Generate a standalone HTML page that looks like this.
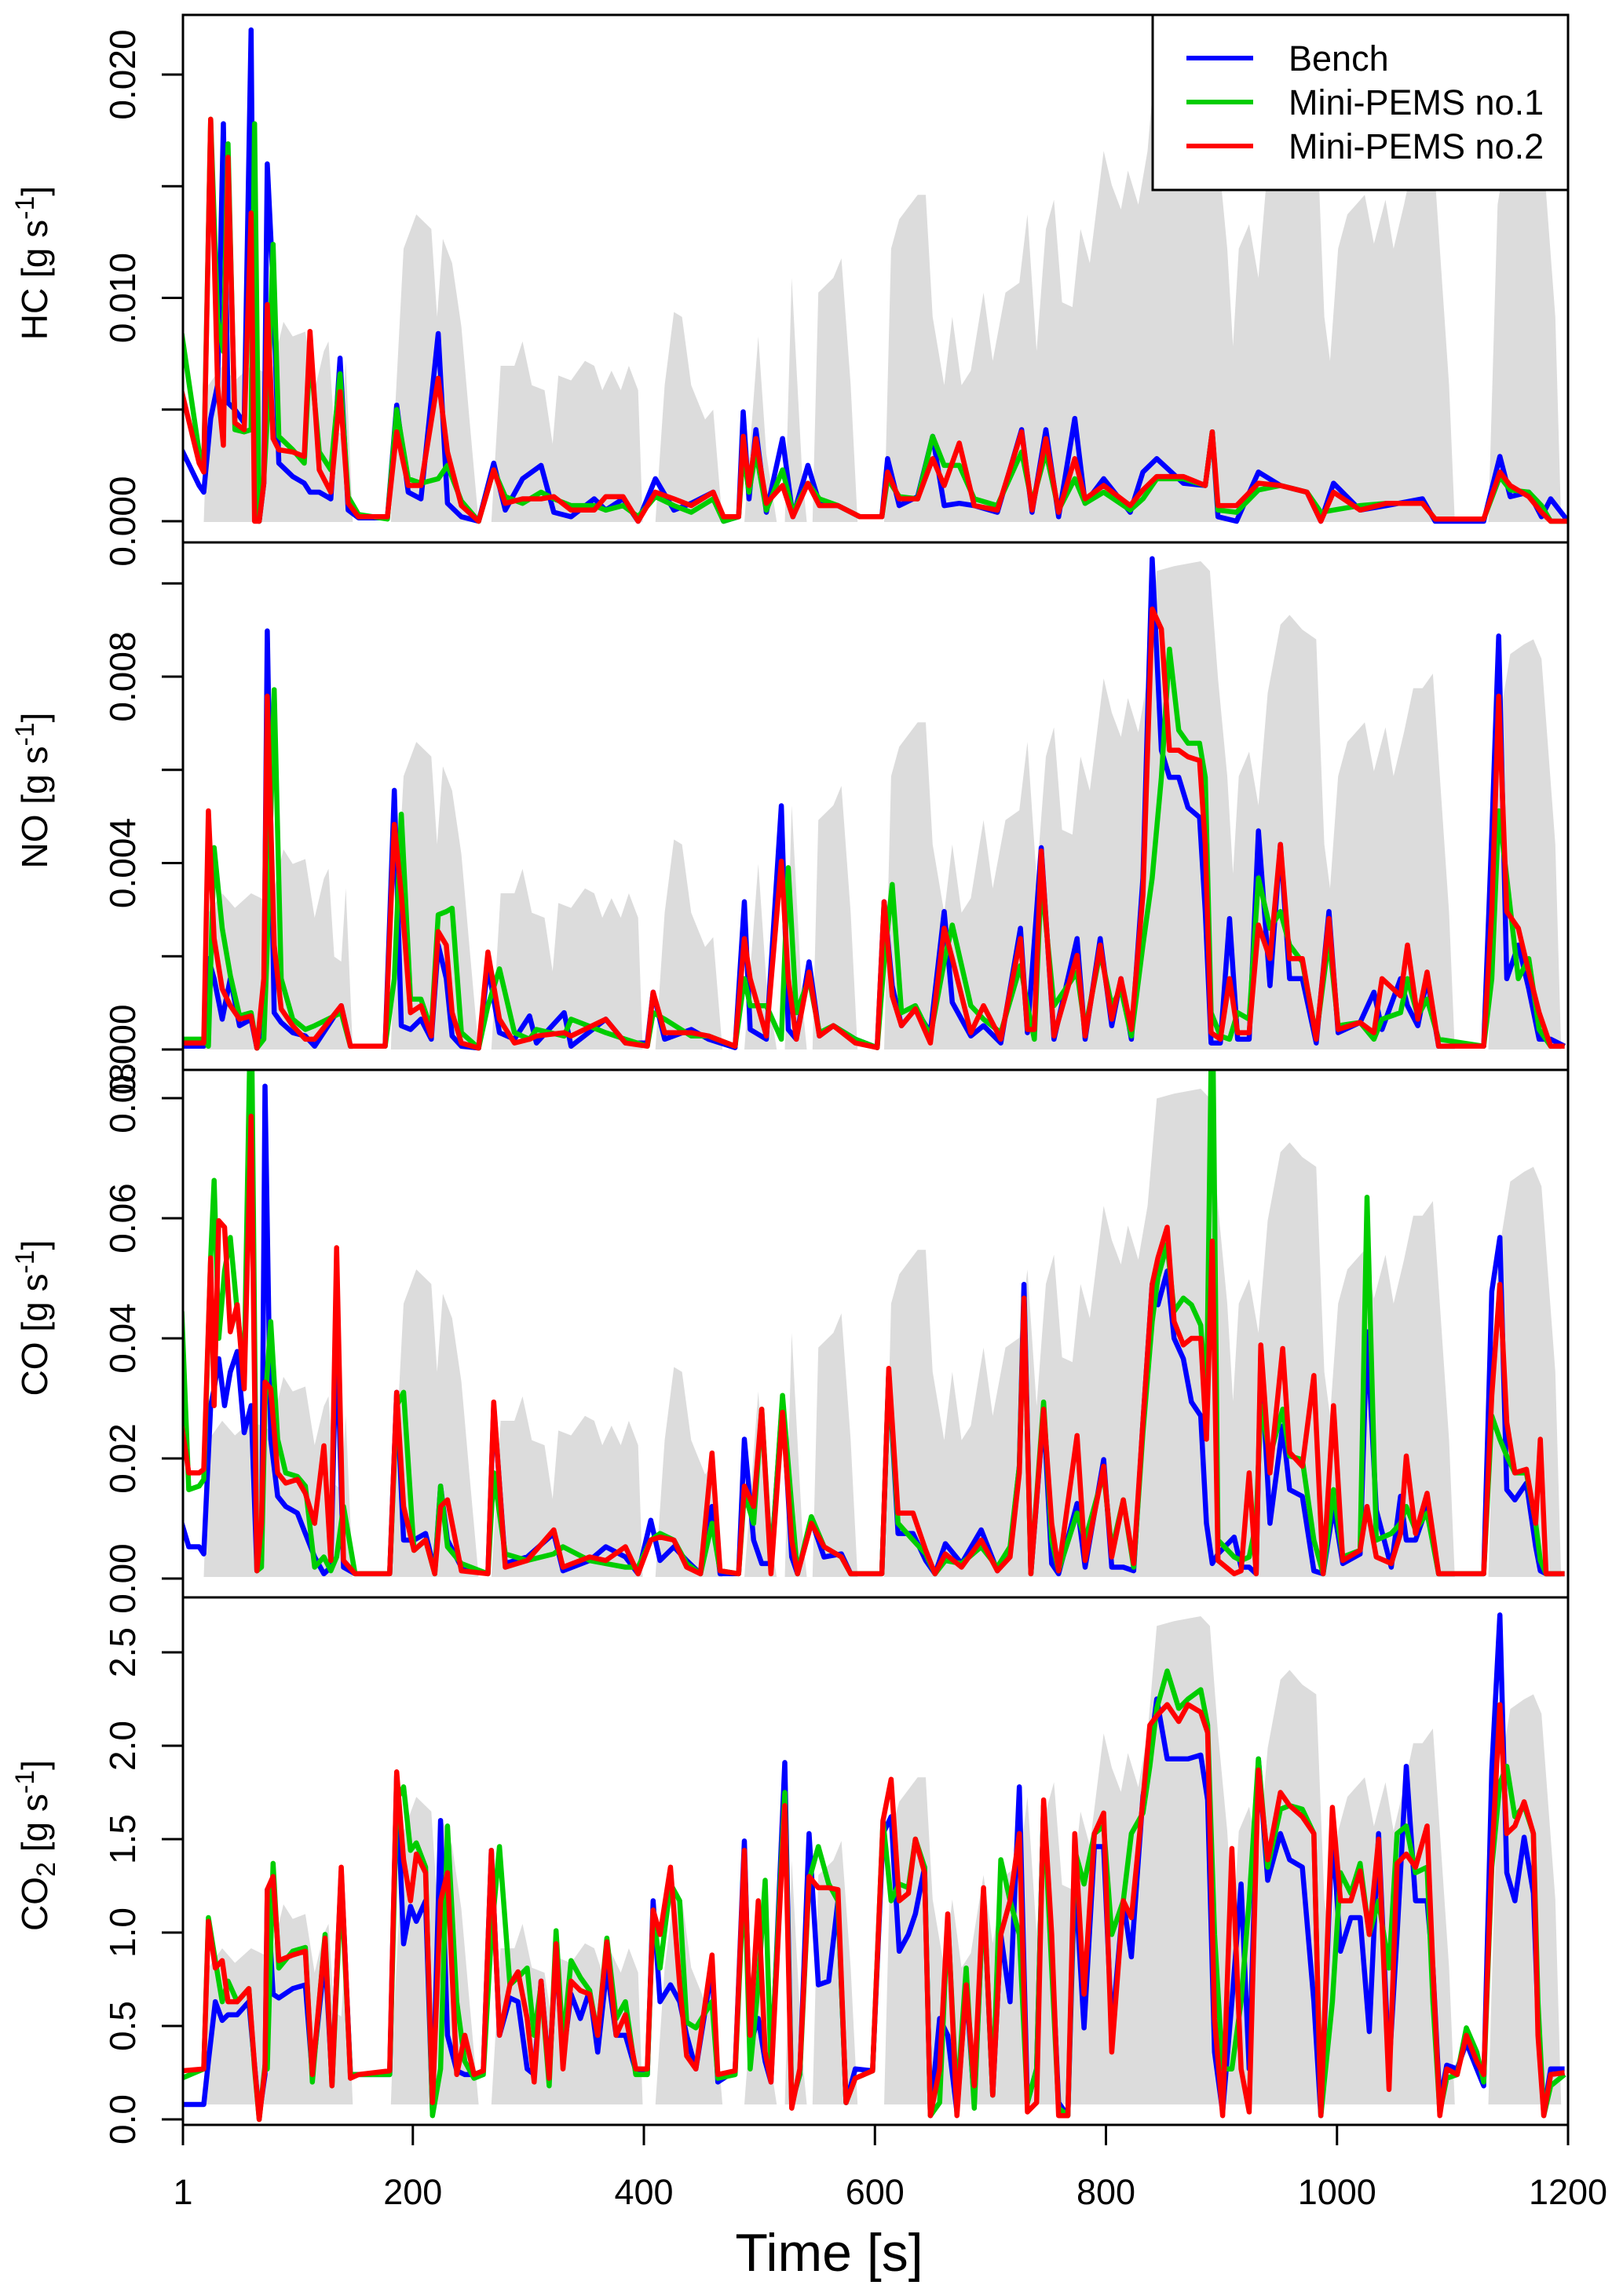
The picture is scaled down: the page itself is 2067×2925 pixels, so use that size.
<!DOCTYPE html>
<html><head><meta charset="utf-8"><title>Emission time series</title>
<style>html,body{margin:0;padding:0;background:#fff}svg{display:block}text{font-family:"Liberation Sans",Arial,sans-serif;fill:#000}</style>
</head><body>
<svg id="chart" width="2067" height="2925" viewBox="0 0 2067 2925" xmlns="http://www.w3.org/2000/svg"></svg>
<script>
// ---------- data ----------
const spT=[0,19,23,35,46,60,77,88,96,107,115,123,127,132,138,142,148,181,184,192,203,216,221,226,234,242,249,257,268,276,288,295,303,314,321,326,337,349,357,364,372,380,387,395,399,410,418,426,433,441,453,460,468,487,499,506,515,522,528,537,541,546,551,564,571,579,585,608,614,621,637,644,650,660,667,675,683,694,702,713,725,732,740,748,755,762,771,778,786,798,805,813,819,828,836,844,859,882,890,897,905,910,915,924,932,940,951,959,970,982,989,994,1001,1009,1024,1032,1042,1049,1058,1066,1074,1083,1089,1097,1102,1131,1139,1150,1162,1170,1177,1189,1194,1200];
const spV=[0,0,.28,.32,.29,.32,.3,.41,.38,.39,.27,.35,.37,.19,.18,.33,0,0,.2,.56,.63,.6,.42,.58,.53,.4,.21,0,0,.32,.32,.37,.28,.27,.16,.3,.29,.33,.32,.27,.31,.27,.32,.27,0,0,.28,.43,.42,.28,.21,.23,0,0,.38,.14,0,0,.5,.1,0,0,.47,.5,.54,.28,0,0,.56,.62,.67,.67,.42,.28,.42,.28,.31,.47,.33,.47,.49,.63,.35,.6,.66,.45,.44,.6,.53,.76,.69,.64,.72,.65,.76,.98,.99,1,.98,.76,.56,.36,.56,.61,.5,.73,.87,.89,.86,.84,.42,.33,.56,.63,.67,.57,.66,.56,.65,.74,.74,.77,.56,.28,0,0,.65,.81,.83,.84,.8,.42,0,0];

// HC [mg/s]
const hcT=[0,15,19,25,31,36,40,46,54,60,63,67,71,74,79,84,96,106,111,119,129,137,144,153,178,186,196,207,222,230,242,257,270,280,295,311,322,337,357,367,382,395,410,426,441,460,469,482,486,491,497,506,520,529,542,552,568,587,606,611,621,637,650,660,673,686,706,727,736,748,759,773,782,798,821,832,844,867,886,892,897,913,932,951,974,986,997,1020,1043,1074,1085,1127,1141,1150,1166,1177,1185,1200];
const hcBench=[3.2,1.6,1.3,4.6,6.1,17.8,5.3,5,4.4,22,3.1,0,1.7,16,10.6,2.6,2,1.7,1.3,1.3,1,7.3,.5,.15,.15,5.2,1.3,1,8.4,.8,.2,0,2.6,.5,1.9,2.5,.4,.2,1,.5,1,0,1.9,.5,.8,1.3,0,.2,4.9,1,4.1,.4,3.7,.2,2.5,.8,.7,.2,.2,2.8,.7,1.1,3.8,.7,.8,.7,.4,4.1,.4,4.1,.2,4.6,.8,1.9,.4,2.2,2.8,1.7,1.6,4,.2,0,2.2,1.6,1.3,0,1.7,.5,.7,1,0,0,2.9,1.1,1.3,.2,1,0];
const hcPems1=[8.4,3.1,2.5,18,9.1,7.6,16.9,4.1,4,4.1,17.8,0,1.9,4.6,12.4,3.8,3.2,2.6,7.6,3.1,2.3,6.6,1.1,.3,.1,5,1.9,1.7,1.9,2.5,.9,0,2.3,1.1,.8,1.3,1,.7,.7,.5,.7,.2,1.1,.7,.4,1,0,.2,3.1,1.3,3.1,.5,2.3,.4,1.7,1,.7,.2,.2,1.9,1.1,1,3.8,2.5,2.5,1,.7,3.1,.8,3.1,.5,1.9,.8,1.3,.5,1,1.9,1.9,1.6,4,.5,.4,1.4,1.6,1.3,.4,.5,.7,.8,.8,.1,.1,2,1.4,1.3,.7,0,0];
const hcPems2=[5.8,2.6,2.2,18,6.1,3.4,16.3,4.4,4.1,13.8,0,0,1.7,9.7,3.7,3.2,3.1,2.9,8.5,2.3,1.3,5.8,.8,.2,.2,4,1.6,1.6,6.4,3.1,.7,0,2.3,.8,1,1,1.1,.5,.5,1.1,1.1,0,1.3,1,.7,1.3,.2,.2,3.8,1.6,3.7,.8,1.6,.2,1.7,.7,.7,.2,.2,2.2,1,1,2.8,1.6,3.5,.7,.5,4,.5,3.7,.4,2.8,1,1.6,.7,1.4,2,2,1.6,4,.7,.7,1.7,1.6,1.3,0,1.3,.5,.8,.8,.1,.1,2.2,1.6,1.1,.4,0,0];

// NO [mg/s]
const noT=[0,19,23,28,35,42,50,60,65,71,74,80,86,96,107,115,138,146,176,184,190,198,207,216,222,229,234,242,257,265,275,288,301,307,331,337,367,384,403,408,418,441,456,479,487,492,506,519,525,532,543,552,564,583,602,608,615,623,635,648,660,667,683,694,709,726,732,738,744,755,775,782,795,805,813,822,832,840,848,855,863,871,881,886,891,899,907,914,924,932,942,951,959,970,982,993,1001,1020,1032,1039,1055,1061,1070,1078,1088,1127,1134,1140,1147,1157,1166,1175,1185,1197];
const noBench=[.07,.07,1.95,1.52,.65,1.52,.51,.65,.03,.79,8.98,.79,.58,.36,.29,.07,.94,.07,.07,5.56,.51,.43,.65,.22,2.24,1.52,.29,.07,.03,1.8,.36,.22,.72,.14,.79,.07,.65,.14,.14,1.23,.22,.43,.22,.04,3.17,.43,.22,5.23,.43,.22,1.88,.29,.51,.22,.04,3.17,1.37,.51,.87,.36,2.96,1.01,.29,.51,.14,2.6,.36,2.31,4.33,.22,2.38,.22,2.38,.51,1.52,.22,3.68,10.53,6.42,5.84,5.84,5.19,4.98,2.96,.14,.14,2.81,.22,.22,4.69,1.37,4.4,1.52,1.52,.14,2.96,.36,.58,1.23,.43,1.52,.94,.51,1.52,.07,.07,4.62,8.87,1.52,2.24,1.3,.22,.22,.07];
const noPems1=[.22,.22,.07,4.33,2.6,1.59,.72,.79,.03,.22,2.24,7.72,1.52,.65,.43,.51,.79,.07,.07,1.52,5.05,1.08,1.08,.43,2.89,2.96,3.03,.36,.03,.94,1.73,.36,.22,.43,.29,.65,.36,.22,.07,.79,.65,.29,.29,.07,1.52,.94,.94,.22,3.9,.79,1.52,.36,.51,.22,.04,1.88,3.54,.79,.94,.29,1.88,2.67,.94,.65,.36,1.8,.94,.22,3.68,.94,1.66,.43,2.09,.94,1.3,.29,2.24,3.68,5.84,8.59,6.85,6.57,6.57,5.84,.79,.29,.22,.79,.65,3.68,2.6,2.96,2.24,1.88,.29,2.38,.51,.58,.22,.65,.79,1.52,.72,1.08,.22,.07,1.52,5.12,3.68,1.52,1.95,.43,.07,.07];
const noPems2=[.14,.14,5.12,2.38,1.3,.94,.65,.72,.03,1.52,7.58,2.24,.87,.51,.22,.22,.94,.07,.07,4.83,3.32,.79,.94,.29,2.53,2.24,.79,.14,.03,2.09,.65,.14,.22,.29,.36,.29,.65,.14,.07,1.23,.36,.36,.29,.07,2.38,1.52,.29,4.04,1.52,.22,1.66,.29,.51,.14,.04,3.17,1.15,.51,.87,.14,2.6,1.95,.36,.94,.22,2.38,.43,.43,4.26,.29,2.02,.29,2.24,.65,1.52,.43,3.32,9.45,9.02,6.42,6.42,6.28,6.2,4.4,.36,.22,1.52,.36,.36,2.67,1.95,4.4,1.95,1.95,.22,2.81,.43,.58,.36,1.52,1.15,2.24,.65,1.66,.07,.07,2.96,7.58,2.96,2.6,1.66,.79,.07,.07];

// CO [mg/s]
const coT=[0,6,15,19,25,28,32,37,42,48,54,60,65,69,72,77,83,90,100,107,115,123,129,134,140,150,180,186,192,201,211,219,224,230,242,265,270,280,299,322,330,353,367,384,395,406,414,426,437,449,459,466,482,487,495,502,510,520,528,533,545,556,571,579,606,612,620,633,644,652,661,675,692,706,717,725,729,735,746,753,759,775,782,798,805,815,824,832,840,845,853,859,867,874,882,887,892,897,911,917,924,930,934,942,953,959,970,980,988,997,1005,1020,1026,1034,1047,1055,1060,1068,1078,1088,1127,1134,1141,1147,1154,1164,1172,1176,1181,1197];
const coBench=[9.2,5.3,5.3,4.1,28.8,31.6,36.6,28.8,34.4,37.8,24.3,28.8,1.3,3,82,23.2,13.7,12,10.9,7.5,3.6,.8,1.9,41.7,1.9,.8,.8,31,6.4,6.4,7.5,1.3,15.4,6.4,1.9,.8,28.8,2.5,3.6,7.5,1.3,3,5.3,3.6,.8,9.7,3,5.3,3,.8,12,.8,.8,23.2,6.4,2.5,2.5,29.9,3.6,.8,9.7,3.6,4.1,.8,.8,34.4,7.5,7.5,3,.8,5.8,2.5,8.1,1.3,4.7,18.7,49,.8,27.7,2.5,.8,12.5,1.9,19.8,1.9,1.9,1.3,26,49,45.6,51.2,40,36.6,29.4,27.1,9.2,2.5,4.1,6.9,1.9,1.9,.8,37.2,9.2,25.4,14.8,13.7,1.3,.8,12,2.5,4.1,41.1,11.4,1.9,13.7,6.4,6.4,12,.8,.8,47.8,56.8,14.8,13.1,15.9,5.3,1.3,.8,.8];
const coPems1=[44.5,14.8,15.4,16.5,53.4,66.3,40,51.2,56.8,44.5,34.4,100,1.3,1.9,28.8,42.8,23.2,17.6,17,15.4,1.9,3.6,1.3,3.6,12,.8,.8,28.8,31,4.7,6.4,.8,15.4,5.3,2.5,.8,17.6,4.1,3,4.1,5.3,3,2.5,1.9,1.9,6.4,7.5,6.4,2.5,.8,9.2,1.3,.8,14.2,9.2,28.2,1.9,30.5,12,.8,10.3,5.3,3.6,.8,.8,34.4,9.2,6.4,4.1,.8,3,2.5,5.3,1.9,5.3,18.7,46.7,.8,29.4,6.4,1.3,10.9,6.4,17.6,4.7,13.1,1.9,24.3,42.8,50.1,55.7,44.5,46.7,45.6,42.2,28.8,100,6.4,3.6,3,3.6,9.2,28.8,20.4,28.2,20.4,19.8,6.4,.8,14.8,3.6,4.7,63.5,6.4,7.5,9.2,12,8.1,10.9,.8,.8,27.1,23.2,20.4,17.6,17.6,9.2,3,.8,.8];
const coPems2=[25.4,17.6,17.6,18.2,53.4,28.8,59.6,58.5,41.1,45.6,31.6,77,1.3,9.2,32.7,31.6,17.6,15.9,16.5,14.2,9.2,22.1,3,55.1,3,.8,.8,31,12,4.7,6.4,.8,12,13.1,1.3,.8,29.4,1.9,3,8.1,1.9,3.6,3,5.3,.8,6.4,6.9,6.4,1.9,.8,20.9,1.3,.8,15.4,12,28.2,.8,27.7,6.4,.8,9.2,5.3,3.6,.8,.8,35,10.9,10.9,4.7,.8,4.1,1.9,6.4,1.3,3.6,17.6,46.7,.8,28.2,9.2,1.3,23.8,3,18.7,3.6,13.1,2.5,26,49,53.4,58.5,42.8,38.9,40,40,23.2,56.2,3,.8,1.3,17.6,.8,38.9,17.6,38.3,21,18.7,33.8,.8,28.8,3,4.7,12,3.6,2.5,7.5,20.4,7.5,14.2,.8,.8,30.5,49,26,17.6,18.2,9.2,23.2,.8,.8];

// CO2 [g/s]
const co2T=[0,19,23,29,35,40,48,58,63,67,72,74,79,84,96,107,113,124,130,138,146,153,180,186,192,198,203,211,217,224,230,238,245,253,261,268,275,284,291,299,305,311,318,324,330,337,345,353,360,368,376,384,393,403,408,414,423,431,437,445,459,464,479,487,492,499,505,510,522,528,535,543,551,560,568,575,583,598,607,614,621,629,635,643,648,656,663,671,679,686,694,702,709,717,725,732,740,746,753,759,767,773,781,790,798,805,815,822,832,838,844,853,863,871,882,888,894,901,909,917,924,932,940,951,959,970,980,986,996,1003,1012,1020,1028,1036,1045,1052,1060,1068,1078,1083,1089,1095,1104,1112,1121,1127,1134,1141,1147,1154,1162,1170,1174,1179,1185,1197];
const co2Bench=[.08,.08,.31,.63,.53,.56,.56,.63,.29,.02,.24,1.23,.67,.65,.70,.72,.24,.88,.20,1.33,.24,.24,.24,1.84,.94,1.14,1.06,1.17,.04,1.60,.45,.26,.24,.24,.26,1.44,.45,.65,.63,.27,.24,.74,.24,.90,.33,.67,.54,.69,.36,.81,.45,.45,.26,.24,1.17,.63,.72,.63,.45,.27,.81,.20,.26,1.49,.40,.54,.31,.20,1.91,.09,.24,1.53,.72,.74,1.17,.09,.27,.26,1.53,1.62,.90,.99,1.10,1.35,.02,.54,.45,.04,.72,.09,1.21,.13,.99,.63,1.78,.09,.27,1.68,.90,.09,.02,1.32,.49,1.46,1.46,.47,1.17,.87,1.73,1.95,2.25,1.93,1.93,1.93,1.95,1.71,.36,.04,.63,1.26,.27,1.93,1.28,1.53,1.39,1.35,.63,.02,1.55,.90,1.08,1.08,.47,1.53,.27,.99,1.89,1.17,1.17,.81,.09,.29,.27,.41,.27,.18,1.87,2.70,1.32,1.17,1.51,1.21,.54,.04,.27,.27];
const co2Pems1=[.22,.27,1.08,.85,.63,.74,.63,.70,.27,0,.29,.27,1.37,.81,.90,.92,.20,.99,.18,1.26,.24,.24,.24,1.71,1.78,1.44,1.48,1.35,.02,.27,1.57,.63,.31,.22,.24,.99,1.46,.72,.76,.81,.45,.72,.18,1.01,.40,.85,.76,.69,.45,.97,.54,.63,.24,.24,1.12,.81,1.26,1.17,.52,.49,.63,.22,.24,1.35,.27,.72,1.28,.27,1.75,.09,.24,1.28,1.46,1.26,1.17,.09,.22,.26,1.60,1.17,1.26,1.24,1.50,1.35,.02,.09,1.08,.09,.81,.06,1.21,.13,1.39,1.17,.99,.09,.27,1.68,.81,.06,.02,1.44,1.26,1.53,1.57,.99,1.17,1.53,1.64,1.89,2.20,2.40,2.20,2.25,2.30,2.11,.99,.27,.27,.63,1.17,1.93,1.35,1.66,1.68,1.66,1.53,.02,.63,1.32,1.21,1.37,.99,1.17,.81,1.53,1.57,1.32,1.35,.63,.04,.22,.24,.49,.36,.20,1.35,1.80,1.89,1.62,1.68,1.53,.63,.02,.18,.24];
const co2Pems2=[.26,.27,1.06,.81,.85,.63,.63,.70,.29,0,.27,1.23,1.30,.85,.88,.90,.24,.97,.18,1.35,.22,.24,.26,1.86,1.39,1.17,1.42,1.32,.09,1.17,1.32,.24,.45,.24,.26,1.44,.45,.72,.79,.54,.20,.74,.22,.94,.27,.74,.69,.67,.45,.95,.45,.56,.27,.27,1.12,.99,1.35,.72,.34,.27,.88,.24,.26,1.44,.45,1.17,.36,.20,1.68,.06,.27,1.30,1.24,1.24,1.23,.09,.22,.26,1.60,1.82,1.17,1.21,1.50,1.32,.02,.27,1.10,.02,.72,.18,1.24,.13,.99,1.17,1.53,.04,.09,1.71,.99,.02,.02,1.53,.67,1.53,1.64,.36,1.17,1.08,1.71,2.11,2.16,2.22,2.13,2.22,2.18,2.07,.54,.02,1.45,.27,.04,1.87,1.39,1.75,1.68,1.62,1.53,.02,1.67,1.17,1.17,1.33,.99,1.50,.16,1.37,1.42,1.35,1.57,.81,.02,.27,.24,.45,.31,.24,1.39,2.22,1.53,1.57,1.70,1.53,.45,.02,.24,.25];

// axis ticks
const hcTicks=[0,5,10,15,20];
const hcTickLabels=["0.000","","0.010","","0.020"];
const noTicks=[0,2,4,6,8,10];
const noTickLabels=["0.000","","0.004","","0.008",""];
const coTicks=[0,20,40,60,80];
const coTickLabels=["0.00","0.02","0.04","0.06","0.08"];
const co2Ticks=[0,0.5,1,1.5,2,2.5];
const co2TickLabels=["0.0","0.5","1.0","1.5","2.0","2.5"];
const xTicks=[1,200,400,600,800,1000,1200];
const xTickLabels=["1","200","400","600","800","1000","1200"];
const seriesNames=["Bench","Mini-PEMS no.1","Mini-PEMS no.2"];

// ---------- drawing ----------
const NS="http://www.w3.org/2000/svg";
const svg=document.getElementById('chart');
const X0=233,X1=1997,T0=1,T1=1200;
function xs(t){return X0+(t-T0)*(X1-X0)/(T1-T0);}
function mk(tag,attrs,parent){const e=document.createElementNS(NS,tag);for(const k in attrs)e.setAttribute(k,attrs[k]);(parent||svg).appendChild(e);return e;}
const colors=["#0000ff","#00cd00","#ff0000"];

const panels=[
 {key:"hc",top:19,y0:664,refV:20,refY:95,T:hcT,S:[hcBench,hcPems1,hcPems2],ticks:hcTicks,labels:hcTickLabels,title:["HC [g s","-1","]"],sub:null},
 {key:"no",top:691,y0:1337,refV:8,refY:862,T:noT,S:[noBench,noPems1,noPems2],ticks:noTicks,labels:noTickLabels,title:["NO [g s","-1","]"],sub:null},
 {key:"co",top:1363,y0:2011,refV:80,refY:1399,T:coT,S:[coBench,coPems1,coPems2],ticks:coTicks,labels:coTickLabels,title:["CO [g s","-1","]"],sub:null},
 {key:"co2",top:2035,y0:2700,refV:2.5,refY:2105,T:co2T,S:[co2Bench,co2Pems1,co2Pems2],ticks:co2Ticks,labels:co2TickLabels,title:null,sub:true}
];
const PH=672;

panels.forEach((p,pi)=>{
  const ys=v=>p.y0+(v)*(p.refY-p.y0)/p.refV;
  const g=mk('g',{});
  
  
  const cid='clip'+pi;
  const cp=mk('clipPath',{id:cid},g);
  mk('rect',{x:X0,y:p.top,width:X1-X0,height:PH},cp);
  const sb=p.top+646, st=p.top+24;
  let d='M'+xs(spT[0]).toFixed(1)+','+sb;
  for(let i=0;i<spT.length;i++){d+=' L'+xs(spT[i]).toFixed(1)+','+(sb+(st-sb)*spV[i]).toFixed(1);}
  d+=' L'+xs(spT[spT.length-1]).toFixed(1)+','+sb+' Z';
  const area=mk('path',{d:d,fill:'#dcdcdc',stroke:'none','clip-path':'url(#'+cid+')'},g);
  
  
  p.S.forEach((arr,si)=>{
    const n=Math.min(arr.length,p.T.length);
    let pd='';
    for(let i=0;i<n;i++){pd+=(i?' L':'M')+xs(p.T[i]).toFixed(1)+','+ys(arr[i]).toFixed(1);}
    const ln=mk('path',{d:pd,fill:'none',stroke:colors[si],'stroke-width':6.5,'stroke-linejoin':'round','clip-path':'url(#'+cid+')'},g);
    
    
  });
  const fr=mk('rect',{x:X0,y:p.top,width:X1-X0,height:PH,fill:'none',stroke:'#000','stroke-width':3},g);
  
  
  const ax=mk('g',{},g);
  
  
  p.ticks.forEach((tv,ti)=>{
    const y=ys(tv);
    mk('line',{x1:206,x2:X0,y1:y,y2:y,stroke:'#000','stroke-width':3},ax);
    if(p.labels[ti]){
      const t=mk('text',{x:172,y:y,'font-size':46,'text-anchor':'middle',transform:'rotate(-90 172 '+y+')'},ax);
      t.textContent=p.labels[ti];
      
      
    }
  });
  const cy=p.top+PH/2-20;
  const tt=mk('text',{x:60,y:cy,'font-size':46,'text-anchor':'middle',transform:'rotate(-90 60 '+cy+')'},g);
  
  
  if(p.sub){
    const a=mk('tspan',{},tt);a.textContent='CO';
    const b=mk('tspan',{'font-size':34,dy:10},tt);b.textContent='2';
    const c=mk('tspan',{dy:-10},tt);c.textContent=' [g s';
    const e=mk('tspan',{'font-size':34,dy:-17},tt);e.textContent='-1';
    const f=mk('tspan',{dy:17},tt);f.textContent=']';
  } else {
    const a=mk('tspan',{},tt);a.textContent=p.title[0];
    const e=mk('tspan',{'font-size':34,dy:-17},tt);e.textContent=p.title[1];
    const f=mk('tspan',{dy:17},tt);f.textContent=p.title[2];
  }
});

const xa=mk('g',{});


xTicks.forEach((tv,i)=>{
  const x=xs(tv);
  mk('line',{x1:x,x2:x,y1:2707,y2:2733,stroke:'#000','stroke-width':3},xa);
  const t=mk('text',{x:x,y:2808,'font-size':45,'text-anchor':'middle'},xa);
  t.textContent=xTickLabels[i];
  
  
});
const xt=mk('text',{x:1056,y:2893,'font-size':68,'text-anchor':'middle'});
xt.textContent='Time [s]';



const lg=mk('g',{});


mk('rect',{x:1468,y:19,width:1997-1468,height:223,fill:'#fff',stroke:'#000','stroke-width':3},lg);
seriesNames.forEach((nm,i)=>{
  const y=74+i*56;
  const l=mk('line',{x1:1511,x2:1596,y1:y,y2:y,stroke:colors[i],'stroke-width':6},lg);
  
  
  const t=mk('text',{x:1641,y:y+16,'font-size':45},lg);
  t.textContent=nm;
  
  
});
</script>
</body></html>
